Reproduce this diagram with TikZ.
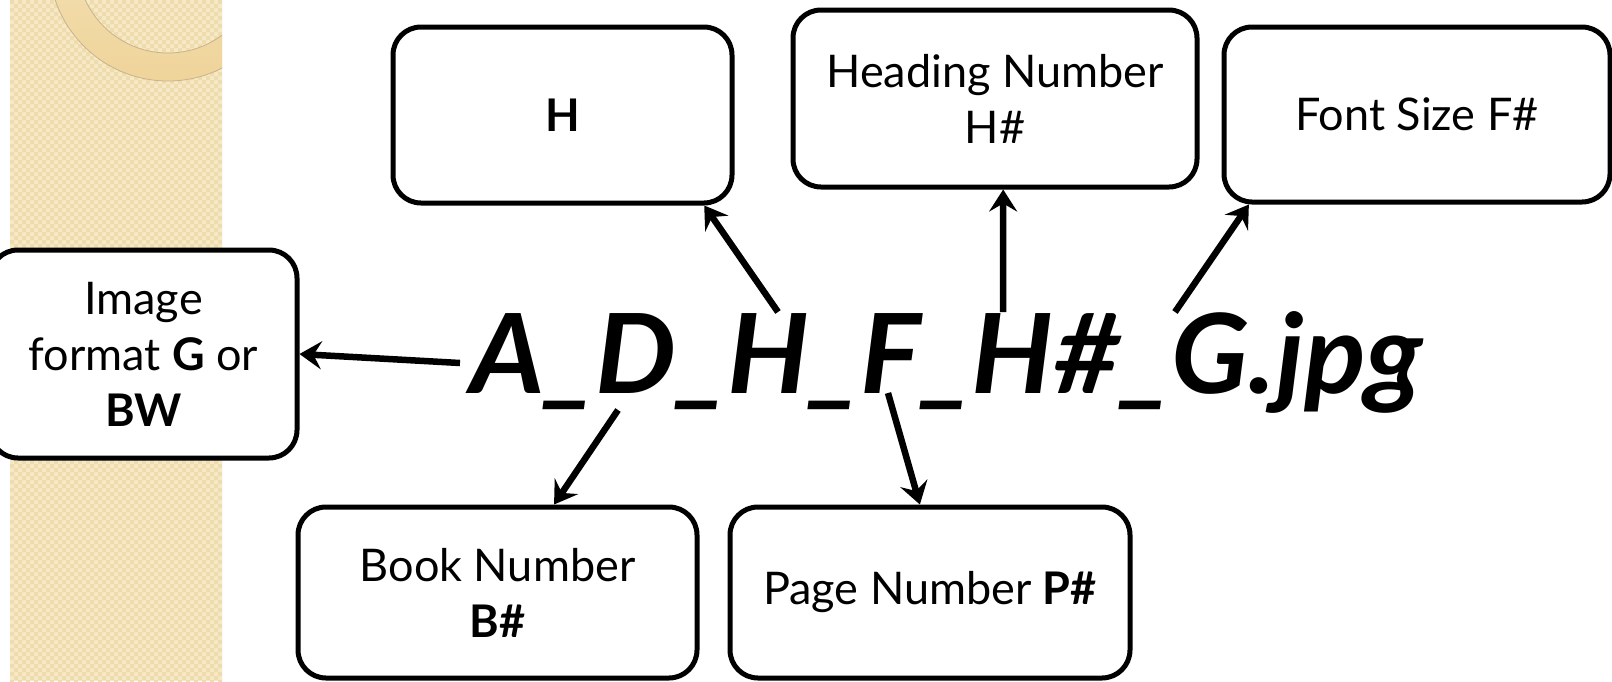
\documentclass[tikz,border=0pt]{standalone}
\usepackage{fontspec}
\usepackage{graphicx}
\setmainfont{Lato}
\usetikzlibrary{arrows.meta,calc}
\definecolor{beigeL}{HTML}{F7E9C6}
\definecolor{beigeD}{HTML}{EEDBAE}
\definecolor{ringA}{HTML}{F6E8C5}
\definecolor{ringB}{HTML}{EFD49A}
\definecolor{ringEdge}{HTML}{C8B38C}
\tikzset{
  infobox/.style={draw=black, line width=5pt, rounded corners=28pt, fill=white,
    align=center, font=\fontsize{45}{56}\selectfont, inner sep=0pt},
  arr/.style={line width=6.5pt, -{Stealth[length=22pt,width=28pt,inset=8pt]}},
}
\begin{document}
\begin{tikzpicture}[x=1pt,y=-1pt]
\useasboundingbox (0,0) rectangle (1612,681);
% decorative strip
\begin{scope}
  \clip (10,0) rectangle (222,681);
  \fill[beigeL] (10,0) rectangle (222,681);
  \fill[beigeD] \foreach \i in {0,...,26}{\foreach \j in {0,...,85}{
     (10+8*\i,8*\j) rectangle ++(4,4) (14+8*\i,4+8*\j) rectangle ++(4,4)}};
  \shade[even odd rule, top color=ringA, bottom color=ringB]
     (168,-38) circle[radius=119pt] (168,-38) circle[radius=91pt];
  \draw[ringEdge, line width=0.8pt]
     (168,-38) circle[radius=119pt] (168,-38) circle[radius=91pt];
\end{scope}
% boxes
\node[infobox, minimum width=339pt, minimum height=176pt] (hbox) at (562.5,115) {\textbf{H}};
\node[infobox, minimum width=404pt, minimum height=177pt] (hnum) at (995,98.5) {Heading Number\\H\#};
\node[infobox, minimum width=386pt, minimum height=175pt] (fsize) at (1417,114.5) {Font Size F\#};
\node[infobox, minimum width=307pt, minimum height=208pt] (ifmt) at (143.5,354) {Image\\format \textbf{G} or\\\textbf{BW}};
\node[infobox, minimum width=399pt, minimum height=171pt] (book) at (497.5,592.5) {Book Number\\\textbf{B\#}};
\node[infobox, minimum width=400pt, minimum height=171pt] (page) at (930,592.5) {Page Number \textbf{P\#}};
% file name
\node[inner sep=0pt, anchor=base west] (fname) at (470,393)
  {\resizebox{952pt}{82pt}{\fontsize{110}{120}\selectfont\bfseries\itshape A\_D\_H\_F\_H\#\_G.jpg}};
% arrow start points on the file name
\coordinate (sA) at (460,363);
\coordinate (sD) at (618,410);
\coordinate (sH) at (778,312);
\coordinate (sF) at (888,393);
\coordinate (sHn) at (1003,312);
\coordinate (sG) at (1175,312);
% connectors
\draw[arr] (sA) -- (ifmt.east);
\draw[arr] (sH) -- ($(hbox.south west)!0.912!(hbox.south east)$);
\draw[arr] (sHn) -- ($(hnum.south west)!0.52!(hnum.south east)$);
\draw[arr] (sG) -- ($(fsize.south west)!0.07!(fsize.south east)$);
\draw[arr] (sD) -- ($(book.north west)!0.64!(book.north east)$);
\draw[arr] (sF) -- ($(page.north west)!0.475!(page.north east)$);
\end{tikzpicture}
\end{document}
